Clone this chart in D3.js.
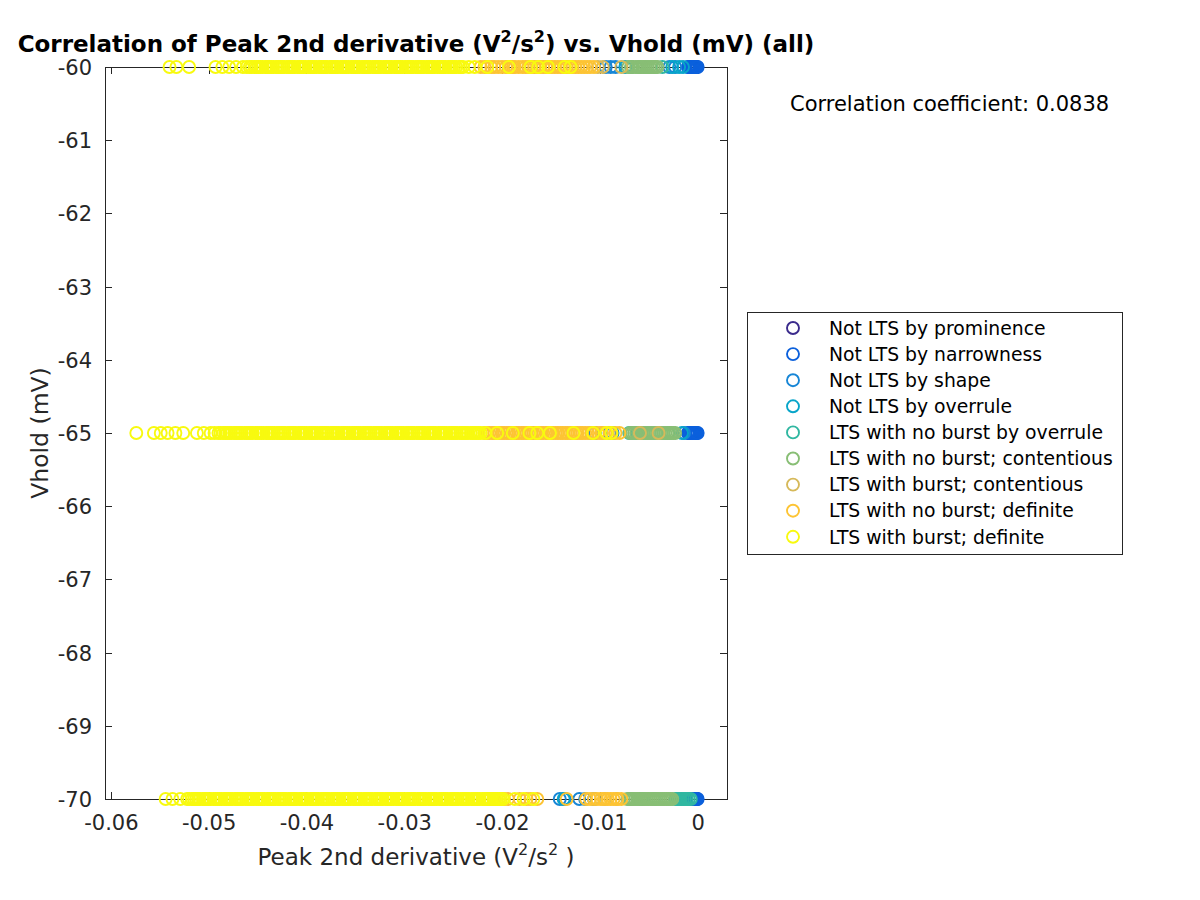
<!DOCTYPE html>
<html><head><meta charset="utf-8">
<script src="https://cdn.jsdelivr.net/npm/d3@7"></script>
<style>body{margin:0;background:#fff;} svg{display:block;} text{font-family:"DejaVu Sans",sans-serif;}</style>
</head><body><svg id="chart" width="1200" height="900"></svg>
<script>
// ---- data ----
const categories = ["Not LTS by prominence","Not LTS by narrowness","Not LTS by shape","Not LTS by overrule",
  "LTS with no burst by overrule","LTS with no burst; contentious","LTS with burst; contentious",
  "LTS with no burst; definite","LTS with burst; definite"];
const colors = ["#3b2b8c","#0b60dc","#1786d6","#08a5c9","#30b7a1","#88be75","#d6b95a","#fdc434","#f8fa0f"];
const vholdLevels = [-60, -65, -70];
const xTicks = [-0.06,-0.05,-0.04,-0.03,-0.02,-0.01,0];
const yTicks = [-70,-69,-68,-67,-66,-65,-64,-63,-62,-61,-60];
const correlation = 0.0838;

// Peak 2nd derivative values (V^2/s^2) per category, at Vhold -60 / -65 / -70 mV
const prominence60 = [-0.0004,-0.0002];
const prominence65 = [-0.0005,-0.0002];
const prominence70 = [-0.0004,-0.0001];

const narrowness60 = [-0.0010,-0.0009,-0.0008,-0.0007,-0.0006,-0.0005,-0.0004,-0.0003,-0.0002,-0.0001,0.0000];
const narrowness65 = [-0.0010,-0.0009,-0.0008,-0.0007,-0.0006,-0.0005,-0.0004,-0.0003,-0.0002,-0.0001,0.0000];
const narrowness70 = [-0.0006,-0.0005,-0.0004,-0.0003,-0.0002,-0.0001,0.0000];

const shape60 = [-0.0094,-0.0089,-0.0084,-0.0029,-0.0023];
const shape65 = [-0.0108,-0.0105,-0.0090,-0.0087,-0.0061,-0.0014];
const shape70 = [-0.0141,-0.0136,-0.0121,-0.0115,-0.0106];

const overrule60 = [-0.0074,-0.0026,-0.0019,-0.0015];
const overrule65 = [-0.0106,-0.0088,-0.0062,-0.0016];
const overrule70 = [-0.0137,-0.0069,-0.0057,-0.0044];

const noBurstOverrule60 = [-0.0068,-0.0036];
const noBurstOverrule65 = [-0.0070,-0.0030];
const noBurstOverrule70 = [-0.0023,-0.0021,-0.0019,-0.0017,-0.0015,-0.0013,-0.0011,-0.0009,-0.0007];

const noBurstCont60 = [-0.0071,-0.0068,-0.0066,-0.0063,-0.0061,-0.0059,-0.0057,-0.0055,-0.0053,-0.0051,-0.0049,-0.0047,-0.0045,-0.0043,-0.0041];
const noBurstCont65 = [-0.0069,-0.0067,-0.0065,-0.0063,-0.0061,-0.0059,-0.0057,-0.0055,-0.0053,-0.0051,-0.0049,-0.0047,-0.0045,-0.0043,-0.0041,-0.0039,-0.0037,-0.0035,-0.0033,-0.0031,-0.0029,-0.0027,-0.0025,-0.0023];
const noBurstCont70 = [-0.0072,-0.0070,-0.0068,-0.0066,-0.0064,-0.0062,-0.0060,-0.0058,-0.0056,-0.0054,-0.0052,-0.0050,-0.0048,-0.0046,-0.0044,-0.0042,-0.0040,-0.0038,-0.0036,-0.0034,-0.0032,-0.0030,-0.0028,-0.0026];

const burstCont60 = [-0.0102,-0.0097,-0.0078];
const burstCont65 = [-0.0098,-0.0059,-0.0040];
const burstCont70 = [-0.0095,-0.0083];

const noBurstDef60 = [-0.0222,-0.0218,-0.0215,-0.0211,-0.0208,-0.0204,-0.0200,-0.0196,-0.0193,-0.0191,-0.0189,-0.0187,-0.0183,-0.0179,-0.0176,-0.0173,-0.0170,-0.0167,-0.0164,-0.0161,-0.0158,-0.0155,-0.0152,-0.0149,-0.0146,-0.0143,-0.0140,-0.0137,-0.0134,-0.0131,-0.0128,-0.0125,-0.0122,-0.0119,-0.0116,-0.0113,-0.0110,-0.0106];
const noBurstDef65 = [-0.0218,-0.0215,-0.0213,-0.0210,-0.0208,-0.0205,-0.0203,-0.0200,-0.0198,-0.0195,-0.0193,-0.0190,-0.0188,-0.0185,-0.0183,-0.0180,-0.0178,-0.0175,-0.0173,-0.0170,-0.0168,-0.0165,-0.0163,-0.0160,-0.0158,-0.0155,-0.0153,-0.0150,-0.0148,-0.0145,-0.0143,-0.0140,-0.0138,-0.0135,-0.0133,-0.0130,-0.0128,-0.0125,-0.0123,-0.0120,-0.0118,-0.0115,-0.0112,-0.0109,-0.0106,-0.0102,-0.0098,-0.0094,-0.0089,-0.0084,-0.0080];
const noBurstDef70 = [-0.0213,-0.0208,-0.0203,-0.0198,-0.0194,-0.0182,-0.0175,-0.0171,-0.0164,-0.0134,-0.0114,-0.0110,-0.0106,-0.0103,-0.0099,-0.0096,-0.0092,-0.0089,-0.0086,-0.0082,-0.0078];

const burstDef60 = [-0.0540,-0.0533,-0.0520,-0.0493,-0.0486,-0.0479,-0.0472,-0.0465,-0.0461,
 -0.0458,-0.0456,-0.0453,-0.0451,-0.0449,-0.0447,-0.0445,-0.0442,-0.0440,-0.0438,
 -0.0436,-0.0434,-0.0431,-0.0429,-0.0427,-0.0425,-0.0423,-0.0420,-0.0418,-0.0416,
 -0.0414,-0.0412,-0.0409,-0.0407,-0.0405,-0.0403,-0.0401,-0.0398,-0.0396,-0.0394,
 -0.0392,-0.0390,-0.0387,-0.0385,-0.0383,-0.0381,-0.0379,-0.0376,-0.0374,-0.0372,
 -0.0370,-0.0368,-0.0365,-0.0363,-0.0361,-0.0359,-0.0357,-0.0354,-0.0352,-0.0350,
 -0.0348,-0.0346,-0.0343,-0.0341,-0.0339,-0.0337,-0.0335,-0.0332,-0.0330,-0.0328,
 -0.0326,-0.0324,-0.0321,-0.0319,-0.0317,-0.0315,-0.0313,-0.0310,-0.0308,-0.0306,
 -0.0304,-0.0302,-0.0299,-0.0297,-0.0295,-0.0293,-0.0291,-0.0288,-0.0286,-0.0284,
 -0.0282,-0.0280,-0.0277,-0.0275,-0.0273,-0.0271,-0.0269,-0.0266,-0.0264,-0.0262,
 -0.0260,-0.0258,-0.0255,-0.0253,-0.0251,-0.0249,-0.0247,-0.0244,-0.0242,-0.0240,
 -0.0234,-0.0228,-0.0215,-0.0193,-0.0171,-0.0163,-0.0153,-0.0136,-0.0130];
const burstDef65 = [-0.0574,-0.0556,-0.0549,-0.0542,-0.0534,-0.0526,-0.0512,-0.0505,-0.0498,-0.0494,
 -0.0490,-0.0488,-0.0485,-0.0483,-0.0481,-0.0479,-0.0477,-0.0474,-0.0472,-0.0470,
 -0.0468,-0.0466,-0.0463,-0.0461,-0.0459,-0.0457,-0.0455,-0.0452,-0.0450,-0.0448,
 -0.0446,-0.0444,-0.0441,-0.0439,-0.0437,-0.0435,-0.0433,-0.0430,-0.0428,-0.0426,
 -0.0424,-0.0422,-0.0419,-0.0417,-0.0415,-0.0413,-0.0411,-0.0408,-0.0406,-0.0404,
 -0.0402,-0.0400,-0.0397,-0.0395,-0.0393,-0.0391,-0.0389,-0.0386,-0.0384,-0.0382,
 -0.0380,-0.0378,-0.0375,-0.0373,-0.0371,-0.0369,-0.0367,-0.0364,-0.0362,-0.0360,
 -0.0358,-0.0356,-0.0353,-0.0351,-0.0349,-0.0347,-0.0345,-0.0342,-0.0340,-0.0338,
 -0.0336,-0.0334,-0.0331,-0.0329,-0.0327,-0.0325,-0.0323,-0.0320,-0.0318,-0.0316,
 -0.0314,-0.0312,-0.0309,-0.0307,-0.0305,-0.0303,-0.0301,-0.0298,-0.0296,-0.0294,
 -0.0292,-0.0290,-0.0287,-0.0285,-0.0283,-0.0281,-0.0279,-0.0276,-0.0274,-0.0272,
 -0.0270,-0.0268,-0.0265,-0.0263,-0.0261,-0.0259,-0.0257,-0.0254,-0.0252,-0.0250,
 -0.0248,-0.0246,-0.0243,-0.0241,-0.0239,-0.0237,-0.0235,-0.0232,-0.0230,-0.0228,
 -0.0226,-0.0224,-0.0222,
 -0.0217,-0.0205,-0.0189,-0.0172,-0.0164,-0.0151,-0.0127,-0.0107,-0.0093,-0.0088];
const burstDef70 = [-0.0544,-0.0537,-0.0529,
 -0.0522,-0.0520,-0.0517,-0.0515,-0.0513,-0.0511,-0.0509,-0.0506,-0.0504,-0.0502,
 -0.0500,-0.0498,-0.0495,-0.0493,-0.0491,-0.0489,-0.0487,-0.0484,-0.0482,-0.0480,
 -0.0478,-0.0476,-0.0473,-0.0471,-0.0469,-0.0467,-0.0465,-0.0462,-0.0460,-0.0458,
 -0.0456,-0.0454,-0.0451,-0.0449,-0.0447,-0.0445,-0.0443,-0.0440,-0.0438,-0.0436,
 -0.0434,-0.0432,-0.0429,-0.0427,-0.0425,-0.0423,-0.0421,-0.0418,-0.0416,-0.0414,
 -0.0412,-0.0410,-0.0407,-0.0405,-0.0403,-0.0401,-0.0399,-0.0396,-0.0394,-0.0392,
 -0.0390,-0.0388,-0.0385,-0.0383,-0.0381,-0.0379,-0.0377,-0.0374,-0.0372,-0.0370,
 -0.0368,-0.0366,-0.0363,-0.0361,-0.0359,-0.0357,-0.0355,-0.0352,-0.0350,-0.0348,
 -0.0346,-0.0344,-0.0341,-0.0339,-0.0337,-0.0335,-0.0333,-0.0330,-0.0328,-0.0326,
 -0.0324,-0.0322,-0.0319,-0.0317,-0.0315,-0.0313,-0.0311,-0.0308,-0.0306,-0.0304,
 -0.0302,-0.0300,-0.0297,-0.0295,-0.0293,-0.0291,-0.0289,-0.0286,-0.0284,-0.0282,
 -0.0280,-0.0278,-0.0275,-0.0273,-0.0271,-0.0269,-0.0267,-0.0264,-0.0262,-0.0260,
 -0.0258,-0.0256,-0.0253,-0.0251,-0.0249,-0.0247,-0.0245,-0.0242,-0.0240,-0.0238,
 -0.0236,-0.0234,-0.0231,-0.0229,-0.0227,-0.0225,-0.0223,-0.0220,-0.0218,-0.0216,
 -0.0214,-0.0212,-0.0209,-0.0207,-0.0205,-0.0203,-0.0201,-0.0199,
 -0.0187,-0.0178,-0.0168];

const seriesValues = [
  [prominence60, prominence65, prominence70],
  [narrowness60, narrowness65, narrowness70],
  [shape60, shape65, shape70],
  [overrule60, overrule65, overrule70],
  [noBurstOverrule60, noBurstOverrule65, noBurstOverrule70],
  [noBurstCont60, noBurstCont65, noBurstCont70],
  [burstCont60, burstCont65, burstCont70],
  [noBurstDef60, noBurstDef65, noBurstDef70],
  [burstDef60, burstDef65, burstDef70]
];

// ---- drawing ----
const svg = d3.select("#chart");
const axisColor = "#262626";
const plot = {left:105, right:727, top:67, bottom:799};
const x = d3.scaleLinear().domain([-0.0606, 0.0030]).range([plot.left, plot.right]);
const y = d3.scaleLinear().domain([-70, -60]).range([plot.bottom, plot.top]);

svg.append("rect").attr("width",1200).attr("height",900).attr("fill","#fff");

// axes box
svg.append("rect").attr("x",plot.left+0.5).attr("y",plot.top+0.5)
  .attr("width",plot.right-plot.left).attr("height",plot.bottom-plot.top)
  .attr("fill","none").attr("stroke",axisColor).attr("stroke-width",1);

const tickLen = 7;
const xAxis = d3.axisBottom(x).tickValues(xTicks).tickSize(0).tickPadding(0)
  .tickFormat(d => d === 0 ? "0" : String(+d.toFixed(2)));
const gx = svg.append("g").attr("transform",`translate(0,${plot.bottom})`).call(xAxis);
gx.select(".domain").remove();
gx.selectAll("text").attr("fill",axisColor).attr("font-size",21).attr("dy",null).attr("y",31)
  .style("font-family","DejaVu Sans");
const yAxis = d3.axisLeft(y).tickValues(yTicks).tickSize(0).tickPadding(0).tickFormat(d => String(d));
const gy = svg.append("g").attr("transform",`translate(${plot.left},0)`).call(yAxis);
gy.select(".domain").remove();
gy.selectAll("text").attr("fill",axisColor).attr("font-size",21).attr("x",-13).attr("dy","0.36em")
  .style("font-family","DejaVu Sans");

// inward ticks on all four sides
const tk = svg.append("g").attr("stroke",axisColor).attr("stroke-width",1);
xTicks.forEach(t => {
  const px = Math.round(x(t)) + 0.5;
  tk.append("line").attr("x1",px).attr("x2",px).attr("y1",plot.bottom).attr("y2",plot.bottom-tickLen);
  tk.append("line").attr("x1",px).attr("x2",px).attr("y1",plot.top).attr("y2",plot.top+tickLen);
});
yTicks.forEach(t => {
  const py = Math.round(y(t)) + 0.5;
  tk.append("line").attr("y1",py).attr("y2",py).attr("x1",plot.left).attr("x2",plot.left+tickLen);
  tk.append("line").attr("y1",py).attr("y2",py).attr("x1",plot.right).attr("x2",plot.right-tickLen);
});

// points
const R = 6, SW = 1.9;
const gp = svg.append("g");
seriesValues.forEach((rows, ci) => {
  const pts = [];
  rows.forEach((vals, li) => vals.forEach(v => pts.push({x:v, y:vholdLevels[li]})));
  gp.append("g").selectAll("circle").data(pts).join("circle")
    .attr("cx", d => x(d.x)).attr("cy", d => y(d.y)).attr("r", R)
    .attr("fill","none").attr("stroke", colors[ci]).attr("stroke-width", SW);
});

// title
const title = svg.append("text").attr("x",(plot.left+plot.right)/2).attr("y",52)
  .attr("text-anchor","middle").attr("font-weight","bold").attr("font-size",23).attr("fill","#000");
title.append("tspan").text("Correlation of Peak 2nd derivative (V");
title.append("tspan").attr("font-size",16).attr("dy",-10).text("2");
title.append("tspan").attr("dy",10).text("/s");
title.append("tspan").attr("font-size",16).attr("dy",-10).text("2");
title.append("tspan").attr("dy",10).text(") vs. Vhold (mV) (all)");

// x label
const xl = svg.append("text").attr("x",(plot.left+plot.right)/2).attr("y",865)
  .attr("text-anchor","middle").attr("font-size",23).attr("fill",axisColor);
xl.append("tspan").text("Peak 2nd derivative (V");
xl.append("tspan").attr("font-size",16).attr("dy",-10).text("2");
xl.append("tspan").attr("dy",10).text("/s");
xl.append("tspan").attr("font-size",16).attr("dy",-10).text("2");
xl.append("tspan").attr("dy",10).text(" )");

// y label
svg.append("text").attr("transform",`translate(48,${(plot.top+plot.bottom)/2}) rotate(-90)`)
  .attr("text-anchor","middle").attr("font-size",23.5).attr("fill",axisColor).text("Vhold (mV)");

// correlation text
svg.append("text").attr("x",790).attr("y",111).attr("font-size",21).attr("fill","#000")
  .text("Correlation coefficient: " + correlation.toFixed(4));

// legend
const lg = svg.append("g");
lg.append("rect").attr("x",747.5).attr("y",312.5).attr("width",375).attr("height",242)
  .attr("fill","#fff").attr("stroke",axisColor).attr("stroke-width",1);
categories.forEach((c, i) => {
  const cy = 328 + i*26.1;
  lg.append("circle").attr("cx",793).attr("cy",cy).attr("r",R).attr("fill","none")
    .attr("stroke",colors[i]).attr("stroke-width",SW);
  lg.append("text").attr("x",829).attr("y",cy).attr("dy","0.36em").attr("font-size",18.8)
    .attr("fill","#000").text(c);
});
</script></body></html>
